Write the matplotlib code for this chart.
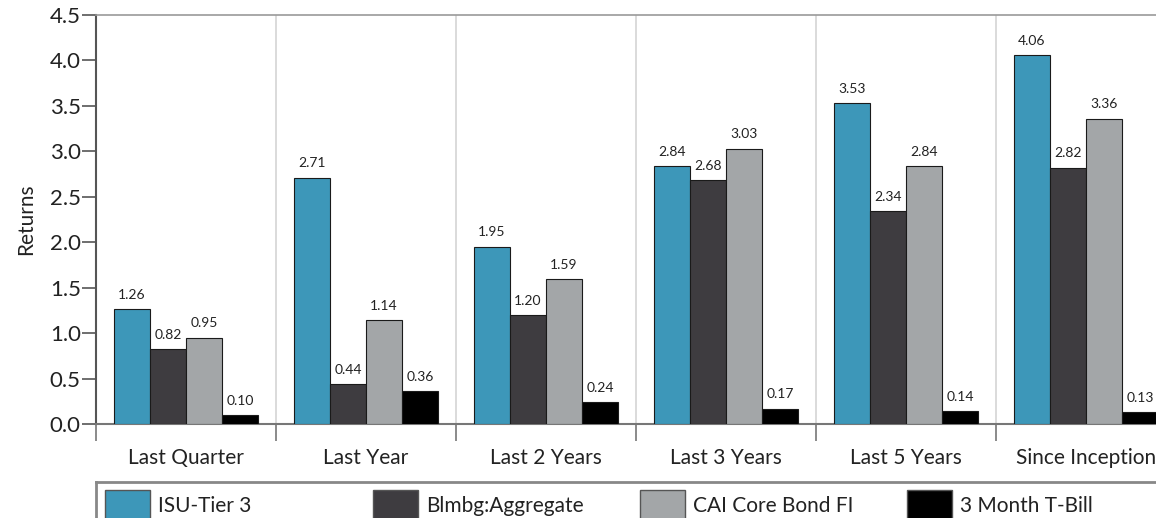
import numpy as np
import matplotlib
matplotlib.use('Agg')
import matplotlib.pyplot as plt
from matplotlib.patches import Rectangle

plt.rcParams['font.family'] = ['Lato', 'DejaVu Sans']

# data
categories = ['Last Quarter', 'Last Year', 'Last 2 Years', 'Last 3 Years', 'Last 5 Years', 'Since Inception']
series_names = ['ISU-Tier 3', 'Blmbg:Aggregate', 'CAI Core Bond FI', '3 Month T-Bill']
isu_tier3 = [1.26, 2.71, 1.95, 2.84, 3.53, 4.06]
blmbg_agg = [0.82, 0.44, 1.20, 2.68, 2.34, 2.82]
cai_core = [0.95, 1.14, 1.59, 3.03, 2.84, 3.36]
tbill_3m = [0.10, 0.36, 0.24, 0.17, 0.14, 0.13]
y_ticks = [0.0, 0.5, 1.0, 1.5, 2.0, 2.5, 3.0, 3.5, 4.0, 4.5]

colors = ['#3d97b9', '#3e3c40', '#a3a6a8', '#000000']
all_series = [isu_tier3, blmbg_agg, cai_core, tbill_3m]

W, H = 1156, 518
fig = plt.figure(figsize=(W / 100, H / 100), dpi=100)

# main axes (runs off the right edge like the original)
ax = fig.add_axes([96 / W, (H - 424) / H, (1176 - 96) / W, (424 - 15) / H])

x = np.arange(len(categories)) + 0.5
bw = 0.2
offsets = [-0.3, -0.1, 0.1, 0.3]
for vals, col, off in zip(all_series, colors, offsets):
    bars = ax.bar(x + off, vals, width=bw, color=col, edgecolor='#1a1a1a', linewidth=0.8, zorder=3)
    for b, v in zip(bars, vals):
        ax.annotate('%.2f' % v, (b.get_x() + b.get_width() / 2, v), xytext=(0, 6),
                    textcoords='offset points', ha='center', va='bottom', fontsize=10, color='#222222')

ax.set_xlim(0, len(categories))
ax.set_ylim(0, 4.5)
ax.set_yticks(y_ticks)
ax.set_yticklabels(['%.1f' % t for t in y_ticks], fontsize=16, color='#222222')
ax.tick_params(axis='y', length=10, width=1.2, color='#555555', pad=1)

# group separators
ax.set_xticks(np.arange(len(categories) + 1))
ax.set_xticklabels([])
ax.tick_params(axis='x', which='major', length=12, width=1.2, color='#777777')
ax.set_xticks(x, minor=True)
ax.set_xticklabels(categories, minor=True, fontsize=15, color='#222222')
ax.tick_params(axis='x', which='minor', length=0, pad=17)
for b in range(1, len(categories)):
    ax.axvline(b, color='#d4d4d4', linewidth=1.2, zorder=1)

ax.spines['left'].set_color('#555555')
ax.spines['left'].set_linewidth(1.5)
ax.spines['bottom'].set_color('#777777')
ax.spines['bottom'].set_linewidth(1.5)
ax.spines['top'].set_color('#999999')
ax.spines['top'].set_linewidth(1.2)
ax.spines['right'].set_visible(False)

ax.set_ylabel('Returns', fontsize=15, color='#222222', labelpad=10)

# legend box along the bottom, also cut off by the image edges
lg = fig.add_axes([96 / W, -0.1, 1.0, (H - 482) / H + 0.1])
lg.set_xlim(96, 96 + W)
lg.set_ylim(H + 0.1 * H, 482)
lg.set_xticks([])
lg.set_yticks([])
for s in lg.spines.values():
    s.set_color('#888888')
    s.set_linewidth(2)
item_x = [105, 373, 640, 907]
for px, col, name in zip(item_x, colors, series_names):
    lg.add_patch(Rectangle((px, 490), 45, 32, facecolor=col, edgecolor='#555555', linewidth=1))
    lg.text(px + 53, 506, name, fontsize=15, va='center', ha='left', color='#222222')

fig.savefig('out.png', dpi=100)
